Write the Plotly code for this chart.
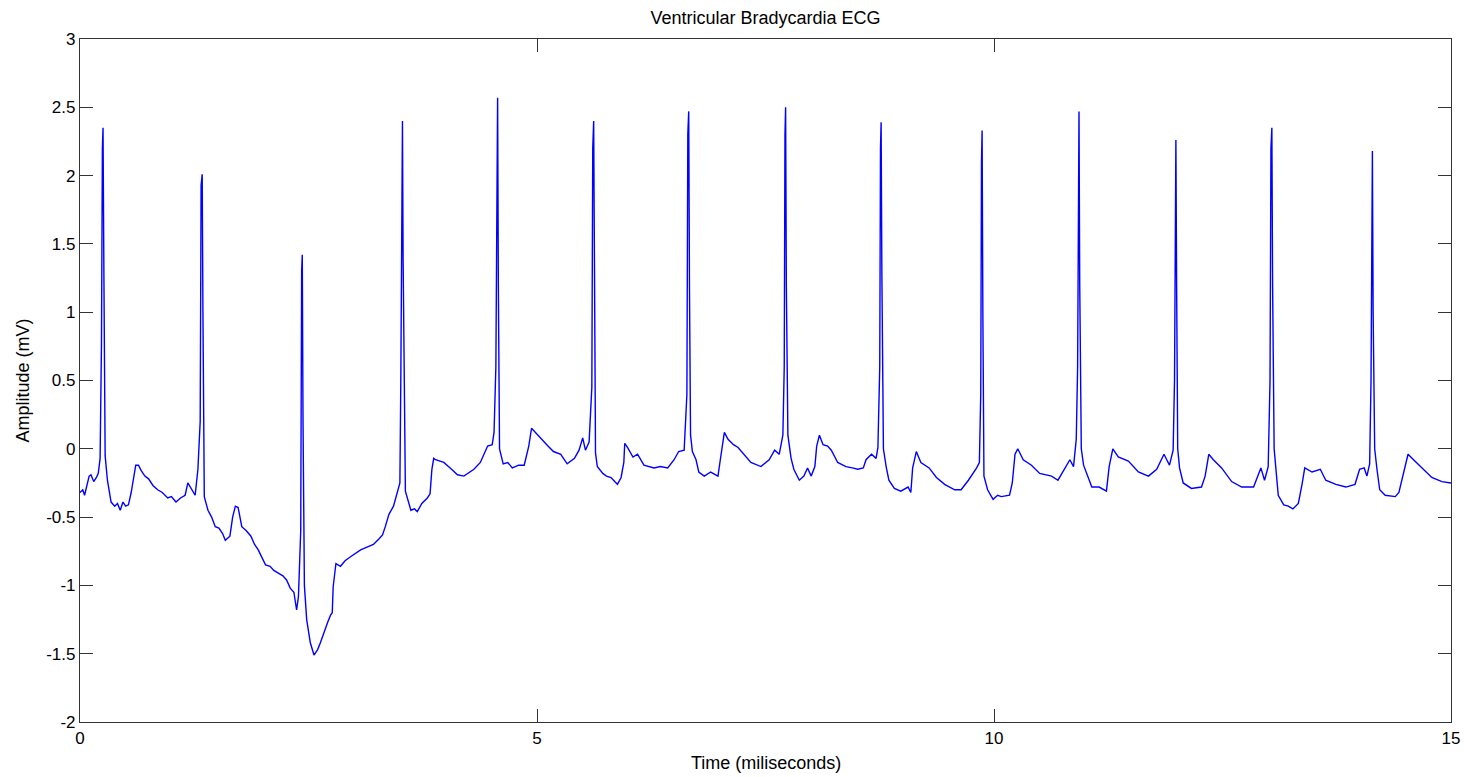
import plotly.graph_objects as go

time_ms = [
    0.00, 0.03, 0.05, 0.08, 0.10, 0.12, 0.15, 0.18, 0.20, 0.22,
    0.235, 0.245, 0.252, 0.262, 0.275,
    0.30, 0.34, 0.38, 0.41, 0.44, 0.47, 0.50, 0.53, 0.56, 0.59, 0.61, 0.64, 0.67, 0.71, 0.75,
    0.80, 0.85, 0.90, 0.96, 1.00, 1.05, 1.10, 1.15, 1.18, 1.22, 1.26, 1.29,
    1.315, 1.325, 1.337, 1.345, 1.355,
    1.36, 1.40, 1.44, 1.48, 1.52, 1.56, 1.59, 1.64, 1.67, 1.70, 1.73, 1.77, 1.82, 1.87, 1.91,
    1.95, 1.99, 2.03, 2.08, 2.12, 2.17, 2.22, 2.26, 2.30, 2.34, 2.37, 2.39,
    2.415, 2.425, 2.432, 2.44, 2.455,
    2.48, 2.52, 2.56, 2.60, 2.63, 2.67, 2.71, 2.74, 2.76, 2.77, 2.80, 2.85, 2.90, 2.96, 3.02,
    3.07, 3.14, 3.21, 3.27, 3.31, 3.34, 3.38, 3.43, 3.47, 3.50,
    3.51, 3.52, 3.528, 3.535, 3.55,
    3.56, 3.62, 3.66, 3.69, 3.74, 3.80, 3.83, 3.85, 3.87, 3.89, 3.93, 3.98, 4.05, 4.13, 4.20,
    4.26, 4.31, 4.38, 4.46, 4.51, 4.53,
    4.55, 4.56, 4.569, 4.577, 4.59,
    4.63, 4.68, 4.73, 4.80, 4.86, 4.91, 4.94, 4.98, 5.01, 5.06, 5.12, 5.18, 5.26, 5.33, 5.41,
    5.46, 5.50, 5.53, 5.57,
    5.60, 5.61, 5.62, 5.628, 5.64,
    5.66, 5.72, 5.76, 5.81, 5.85, 5.88, 5.92, 5.95, 5.96, 5.99, 6.05, 6.10, 6.17, 6.22, 6.28,
    6.35, 6.43, 6.50, 6.55, 6.61,
    6.64, 6.65, 6.66, 6.668, 6.68,
    6.70, 6.74, 6.77, 6.83, 6.90, 6.98, 7.01, 7.05, 7.09, 7.15, 7.20, 7.25, 7.34, 7.45, 7.54,
    7.60, 7.65, 7.69,
    7.705, 7.713, 7.72, 7.728, 7.745,
    7.78, 7.81, 7.87, 7.92, 7.96, 8.00, 8.04, 8.06, 8.09, 8.13, 8.18, 8.22, 8.29, 8.38, 8.45,
    8.51, 8.57, 8.60, 8.66, 8.71, 8.73,
    8.75, 8.758, 8.765, 8.773, 8.79,
    8.82, 8.85, 8.91, 8.98, 9.06, 9.09, 9.11, 9.15, 9.20, 9.29, 9.37, 9.46, 9.57, 9.64, 9.72,
    9.77, 9.81, 9.84,
    9.855, 9.863, 9.87, 9.878, 9.89,
    9.93, 9.99, 10.04, 10.08, 10.17, 10.20, 10.23, 10.26, 10.32, 10.41, 10.50, 10.56, 10.63,
    10.70, 10.77, 10.83, 10.87, 10.90,
    10.915, 10.923, 10.93, 10.938, 10.955,
    10.98, 11.03, 11.07, 11.15, 11.23, 11.26, 11.30, 11.36, 11.47, 11.58, 11.69, 11.78, 11.86,
    11.92, 11.96,
    11.975, 11.983, 11.99, 11.998, 12.01,
    12.03, 12.07, 12.16, 12.27, 12.31, 12.35, 12.40, 12.49, 12.60, 12.71, 12.84, 12.89, 12.92,
    12.96, 13.00,
    13.02, 13.03, 13.04, 13.048, 13.065,
    13.09, 13.11, 13.17, 13.22, 13.27, 13.33, 13.37, 13.40, 13.48, 13.57, 13.63, 13.74, 13.85,
    13.95, 14.00, 14.05, 14.08, 14.11,
    14.125, 14.133, 14.14, 14.148, 14.165,
    14.19, 14.22, 14.28, 14.39, 14.43, 14.48, 14.53, 14.59, 14.68, 14.79, 14.90, 15.00,
]

amplitude_mv = [
    -0.32, -0.30, -0.34, -0.24, -0.20, -0.19, -0.24, -0.21, -0.18, -0.07,
    0.78, 2.20, 2.35, 1.22, -0.05,
    -0.23, -0.39, -0.42, -0.40, -0.45, -0.39, -0.42, -0.41, -0.32, -0.20, -0.12, -0.12, -0.16, -0.20, -0.22,
    -0.27, -0.30, -0.32, -0.36, -0.35, -0.39, -0.36, -0.34, -0.25, -0.30, -0.34, -0.15,
    0.20, 1.93, 2.01, 1.00, -0.25,
    -0.35, -0.45, -0.50, -0.57, -0.58, -0.62, -0.67, -0.64, -0.50, -0.42, -0.43, -0.57, -0.60, -0.64, -0.70,
    -0.74, -0.80, -0.85, -0.86, -0.89, -0.91, -0.93, -0.96, -1.02, -1.05, -1.18, -1.08,
    -0.60, 1.30, 1.42, 0.20, -1.00,
    -1.25, -1.42, -1.51, -1.47, -1.42, -1.34, -1.27, -1.22, -1.20, -1.01, -0.84, -0.86, -0.82, -0.79, -0.76,
    -0.74, -0.72, -0.70, -0.66, -0.63, -0.57, -0.48, -0.42, -0.32, -0.25,
    0.50, 2.20, 2.40, 1.40, -0.10,
    -0.31, -0.45, -0.44, -0.46, -0.40, -0.36, -0.33, -0.15, -0.07, -0.08, -0.09, -0.10, -0.14, -0.19, -0.20,
    -0.17, -0.15, -0.10, 0.02, 0.03, 0.12,
    0.60, 2.40, 2.57, 1.20, 0.00,
    -0.11, -0.10, -0.14, -0.12, -0.12, 0.02, 0.15, 0.12, 0.10, 0.06, 0.02, -0.02, -0.04, -0.11, -0.07,
    -0.01, 0.08, -0.01, 0.05,
    0.45, 2.20, 2.40, 1.10, -0.03,
    -0.13, -0.18, -0.20, -0.21, -0.24, -0.26, -0.21, -0.10, 0.04, 0.01, -0.06, -0.04, -0.12, -0.13, -0.14,
    -0.13, -0.14, -0.08, -0.02, -0.01,
    0.40, 2.30, 2.47, 1.20, 0.10,
    -0.02, -0.08, -0.17, -0.20, -0.17, -0.20, -0.06, 0.12, 0.07, 0.03, 0.01, -0.03, -0.10, -0.13, -0.08,
    -0.01, -0.04, 0.10,
    0.60, 2.30, 2.50, 1.20, 0.10,
    -0.07, -0.15, -0.23, -0.20, -0.14, -0.20, -0.13, 0.02, 0.10, 0.03, 0.02, -0.01, -0.10, -0.13, -0.14,
    -0.15, -0.14, -0.08, -0.04, -0.07, 0.01,
    0.60, 2.20, 2.39, 1.30, 0.00,
    -0.13, -0.23, -0.29, -0.31, -0.28, -0.32, -0.14, -0.02, -0.10, -0.14, -0.21, -0.26, -0.30, -0.30, -0.23,
    -0.18, -0.14, -0.10,
    0.40, 2.10, 2.33, 1.00, -0.20,
    -0.30, -0.37, -0.34, -0.35, -0.34, -0.25, -0.04, 0.00, -0.08, -0.12, -0.18, -0.19, -0.20,
    -0.23, -0.15, -0.08, -0.13, 0.07,
    0.60, 2.30, 2.47, 1.20, 0.00,
    -0.12, -0.21, -0.28, -0.28, -0.31, -0.13, 0.00, -0.06, -0.09, -0.17, -0.20, -0.15, -0.04,
    -0.12, -0.01,
    0.50, 2.10, 2.26, 1.20, 0.00,
    -0.14, -0.25, -0.29, -0.28, -0.20, -0.04, -0.08, -0.14, -0.24, -0.28, -0.28, -0.19, -0.14,
    -0.23, -0.13,
    0.50, 2.20, 2.35, 1.20, 0.00,
    -0.20, -0.34, -0.41, -0.42, -0.44, -0.40, -0.26, -0.14, -0.17, -0.15, -0.23, -0.26, -0.28,
    -0.26, -0.15, -0.14, -0.20, -0.11,
    0.50, 2.00, 2.18, 1.00, 0.00,
    -0.15, -0.30, -0.34, -0.35, -0.32, -0.18, -0.04, -0.08, -0.14, -0.21, -0.24, -0.25,
]

x_tick_values = [0, 5, 10, 15]
x_tick_labels = ["0", "5", "10", "15"]
y_tick_values = [-2, -1.5, -1, -0.5, 0, 0.5, 1, 1.5, 2, 2.5, 3]
y_tick_labels = ["-2", "-1.5", "-1", "-0.5", "0", "0.5", "1", "1.5", "2", "2.5", "3"]

FONT = "Liberation Sans, Arial, sans-serif"
AXIS_COLOR = "#333333"

fig = go.Figure()
fig.add_trace(go.Scatter(
    x=time_ms, y=amplitude_mv, mode="lines",
    line=dict(color="#0000ff", width=1.4),
    hoverinfo="skip", showlegend=False,
))

axis_common = dict(
    showline=True, linecolor=AXIS_COLOR, linewidth=1.2, mirror="ticks",
    ticks="inside", ticklen=13, tickwidth=1.2, tickcolor=AXIS_COLOR,
    showgrid=False, zeroline=False, automargin=False,
    tickfont=dict(family=FONT, size=17, color="#000000"),
)

fig.update_layout(
    width=1466, height=777,
    margin=dict(l=80, r=15, t=39, b=55),
    paper_bgcolor="white", plot_bgcolor="white",
    title=dict(text="Ventricular Bradycardia ECG", x=0.5, xref="paper", xanchor="center",
               y=1 - 18 / 777, yref="container", yanchor="middle",
               font=dict(family=FONT, size=18, color="#000000")),
    xaxis=dict(range=[0, 15], tickvals=x_tick_values, ticktext=x_tick_labels, **axis_common),
    yaxis=dict(range=[-2, 3], tickvals=y_tick_values, ticktext=y_tick_labels, **axis_common),
    annotations=[
        dict(text="Time (miliseconds)", xref="paper", yref="paper", x=0.5, y=0,
             xanchor="center", yanchor="middle", yshift=-41, showarrow=False,
             font=dict(family=FONT, size=18, color="#000000")),
        dict(text="Amplitude (mV)", xref="paper", yref="paper", x=0, y=0.5,
             xanchor="center", yanchor="middle", xshift=-58, textangle=-90, showarrow=False,
             font=dict(family=FONT, size=18, color="#000000")),
    ],
)

fig.write_html("out.html", config={"displayModeBar": False})
